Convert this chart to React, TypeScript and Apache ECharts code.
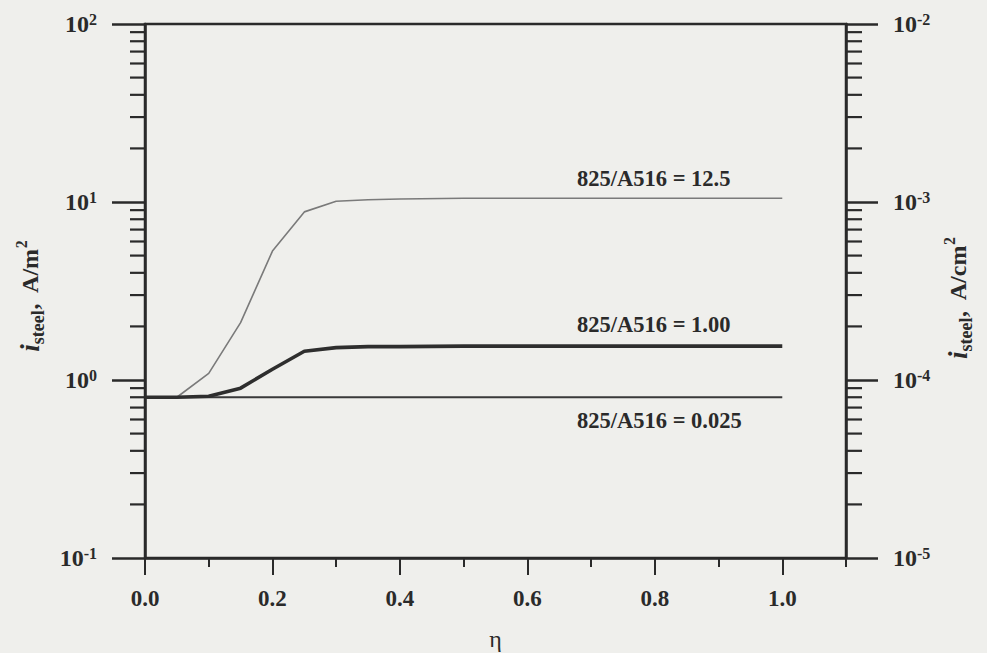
import React, { useEffect, useRef } from "react";
import * as echarts from "echarts";

const etaValues = [0, 0.05, 0.1, 0.15, 0.2, 0.25, 0.3, 0.35, 0.4, 0.5, 0.6, 0.7, 0.8, 0.9, 1.0];
const ratio125 = [0.8, 0.8, 1.09, 2.1, 5.3, 8.8, 10.1, 10.3, 10.4, 10.5, 10.5, 10.5, 10.5, 10.5, 10.5];
const ratio100 = [0.8, 0.8, 0.81, 0.9, 1.15, 1.45, 1.52, 1.54, 1.54, 1.55, 1.55, 1.55, 1.55, 1.55, 1.55];
const ratio0025 = [0.8, 0.8, 0.8, 0.8, 0.8, 0.8, 0.8, 0.8, 0.8, 0.8, 0.8, 0.8, 0.8, 0.8, 0.8];
const seriesNames = ["825/A516 = 12.5", "825/A516 = 1.00", "825/A516 = 0.025"];
const minorTickValues = [0.2, 0.3, 0.4, 0.5, 0.6, 0.7, 0.8, 0.9, 2, 3, 4, 5, 6, 7, 8, 9, 20, 30, 40, 50, 60, 70, 80, 90];
const leftRange = [0.1, 100];
const rightRange = [1e-5, 1e-2];
const xRange = [0, 1.1];

const INK = "#2a2a2a";
const FONT = "'Liberation Serif', 'Times New Roman', serif";

const toPairs = (ys: number[]) => etaValues.map((x, i) => [x, ys[i]]);

const powLabel = (v: number) => {
  const e = Math.round(Math.log10(v));
  return `{b|10}{s|${e}}`;
};
const powRich = {
  b: { fontFamily: FONT, fontWeight: "bold", fontSize: 24, color: INK, lineHeight: 26 },
  s: { fontFamily: FONT, fontWeight: "bold", fontSize: 16, color: INK, lineHeight: 26, verticalAlign: "top" },
};

const titleRich = {
  i: { fontFamily: FONT, fontStyle: "italic", fontWeight: "bold", fontSize: 27, fill: INK, lineHeight: 34 },
  sub: { fontFamily: FONT, fontWeight: "bold", fontSize: 18, fill: INK, lineHeight: 34, verticalAlign: "bottom" },
  n: { fontFamily: FONT, fontWeight: "bold", fontSize: 24, fill: INK, lineHeight: 34 },
  sup: { fontFamily: FONT, fontWeight: "bold", fontSize: 16, fill: INK, lineHeight: 34, verticalAlign: "top" },
};

export default function App() {
  const ref = useRef<HTMLDivElement>(null);
  useEffect(() => {
    if (!ref.current) return;
    const chart = echarts.init(ref.current, undefined, { renderer: "svg" });
    const option: any = {
      animation: false,
      backgroundColor: "#efefec",
      grid: {
        left: 145,
        right: 141,
        top: 24,
        bottom: 95,
        containLabel: false,
        outerBoundsMode: "none",
        show: true,
        borderColor: INK,
        borderWidth: 2.5,
        backgroundColor: "transparent",
      },
      xAxis: [
        {
          type: "value",
          position: "bottom",
          min: xRange[0],
          max: xRange[1],
          interval: 0.2,
          axisLine: { onZero: false, lineStyle: { color: INK, width: 2.5 } },
          axisTick: { length: 17, lineStyle: { color: INK, width: 2 } },
          splitLine: { show: false },
          axisLabel: {
            margin: 29,
            fontFamily: FONT,
            fontWeight: "bold",
            fontSize: 23,
            color: INK,
            showMaxLabel: false,
            formatter: (v: number) => (v > 1.05 ? "" : v.toFixed(1)),
          },
          name: "η",
          nameLocation: "middle",
          nameGap: 68,
          nameTextStyle: { fontFamily: FONT, fontSize: 24, color: INK, lineHeight: 26 },
        },
        {
          type: "value",
          position: "bottom",
          min: xRange[0],
          max: xRange[1],
          interval: 0.1,
          axisLine: { show: false, onZero: false },
          axisTick: { length: 9, lineStyle: { color: INK, width: 2 } },
          splitLine: { show: false },
          axisLabel: { show: false },
        },
      ],
      yAxis: [
        {
          type: "log",
          logBase: 10,
          position: "left",
          min: leftRange[0],
          max: leftRange[1],
          axisLine: { onZero: false, lineStyle: { color: INK, width: 2.5 } },
          axisTick: { length: 33, lineStyle: { color: INK, width: 2.5 } },
          splitLine: { show: false },
          axisLabel: { margin: 48, formatter: powLabel, rich: powRich },
        },
        {
          type: "log",
          logBase: 10,
          position: "right",
          min: rightRange[0],
          max: rightRange[1],
          axisLine: { onZero: false, lineStyle: { color: INK, width: 2.5 } },
          axisTick: { length: 32, lineStyle: { color: INK, width: 2.5 } },
          splitLine: { show: false },
          axisLabel: { margin: 47, formatter: powLabel, rich: powRich },
        },
      ],
      series: [
        {
          name: seriesNames[0],
          type: "line",
          data: toPairs(ratio125),
          showSymbol: false,
          lineStyle: { color: "#7a7a7a", width: 1.6 },
          z: 3,
        },
        {
          name: seriesNames[1],
          type: "line",
          data: toPairs(ratio100),
          showSymbol: false,
          lineStyle: { color: "#2e2e2e", width: 3.6 },
          z: 4,
        },
        {
          name: seriesNames[2],
          type: "line",
          data: toPairs(ratio0025),
          showSymbol: false,
          lineStyle: { color: "#3a3a3a", width: 2 },
          z: 3,
        },
        {
          type: "custom",
          data: minorTickValues.map((v) => [0, v]),
          silent: true,
          renderItem: (params: any, api: any) => {
            const v = api.value(1);
            const l = api.coord([xRange[0], v]);
            const r = api.coord([xRange[1], v]);
            const st = { stroke: INK, lineWidth: 2.2 };
            return {
              type: "group",
              children: [
                { type: "line", shape: { x1: l[0] - 15, y1: l[1], x2: l[0], y2: l[1] }, style: st },
                { type: "line", shape: { x1: r[0], y1: r[1], x2: r[0] + 16, y2: r[1] }, style: st },
              ],
            };
          },
        },
      ],
      graphic: [
        {
          type: "text",
          left: 577,
          top: 167,
          style: { text: seriesNames[0], fontFamily: FONT, fontWeight: "bold", fontSize: 22.5, fill: INK },
        },
        {
          type: "text",
          left: 577,
          top: 313,
          style: { text: seriesNames[1], fontFamily: FONT, fontWeight: "bold", fontSize: 22.5, fill: INK },
        },
        {
          type: "text",
          left: 577,
          top: 409,
          style: { text: seriesNames[2], fontFamily: FONT, fontWeight: "bold", fontSize: 22.5, fill: INK },
        },
        {
          type: "text",
          x: 30,
          y: 296,
          rotation: Math.PI / 2,
          style: {
            text: "{i|i}{sub|steel}{n|,  A/m}{sup|2}",
            align: "center",
            verticalAlign: "middle",
            rich: titleRich,
          },
        },
        {
          type: "text",
          x: 958,
          y: 298,
          rotation: Math.PI / 2,
          style: {
            text: "{i|i}{sub|steel}{n|,  A/cm}{sup|2}",
            align: "center",
            verticalAlign: "middle",
            rich: titleRich,
          },
        },
      ],
    };
    chart.setOption(option);
    return () => chart.dispose();
  }, []);
  return (
    <div
      ref={ref}
      style={{ position: "fixed", left: 0, top: 0, width: 987, height: 653, background: "#efefec" }}
    />
  );
}
